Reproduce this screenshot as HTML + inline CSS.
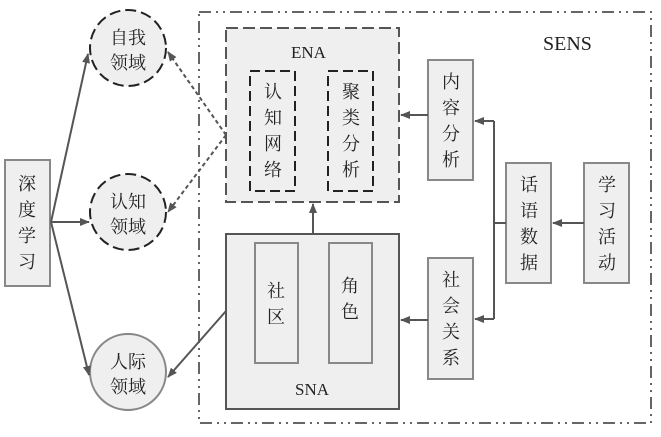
<!DOCTYPE html>
<html><head><meta charset="utf-8"><style>
body{margin:0;background:#fff;}
svg text{font-family:"Liberation Serif","Noto Serif CJK SC","Noto Sans CJK SC",serif;fill:#222;}
</style></head><body>
<svg width="661" height="432" viewBox="0 0 661 432" xmlns="http://www.w3.org/2000/svg">
<defs>
<marker id="a" markerWidth="10" markerHeight="8" refX="9" refY="4" orient="auto" markerUnits="userSpaceOnUse"><path d="M0,0 L10,4 L0,8 z" fill="#555"/></marker>
</defs>
<rect x="0" y="0" width="661" height="432" fill="#fff"/>
<!-- outer dash-dot box -->
<rect x="199" y="12" width="452" height="411" fill="none" stroke="#666" stroke-width="2" stroke-dasharray="12,5,2,5,2,5"/>
<text x="543" y="50" font-size="20">SENS</text>
<!-- ENA -->
<rect x="226" y="28" width="173" height="174" fill="#efefef" stroke="#555" stroke-width="2" stroke-dasharray="12,5"/>
<text x="291" y="58" font-size="17">ENA</text>
<rect x="250" y="71" width="45" height="120" fill="#efefef" stroke="#222" stroke-width="2" stroke-dasharray="10,5"/>
<rect x="328" y="71" width="45" height="120" fill="#efefef" stroke="#222" stroke-width="2" stroke-dasharray="10,5"/>
<g font-size="18" text-anchor="middle">
<text x="273" y="98">认</text><text x="273" y="124">知</text><text x="273" y="150">网</text><text x="273" y="176">络</text>
<text x="351" y="98">聚</text><text x="351" y="124">类</text><text x="351" y="150">分</text><text x="351" y="176">析</text>
</g>
<!-- SNA -->
<rect x="226" y="234" width="173" height="175" fill="#efefef" stroke="#555" stroke-width="2"/>
<rect x="255" y="243" width="43" height="120" fill="#efefef" stroke="#888" stroke-width="2"/>
<rect x="329" y="243" width="43" height="120" fill="#efefef" stroke="#888" stroke-width="2"/>
<g font-size="18" text-anchor="middle">
<text x="276" y="297">社</text><text x="276" y="323">区</text>
<text x="350" y="292">角</text><text x="350" y="318">色</text>
</g>
<text x="312" y="395" font-size="17" text-anchor="middle">SNA</text>
<!-- right boxes -->
<g fill="#efefef" stroke="#888" stroke-width="2">
<rect x="428" y="60" width="45" height="120"/>
<rect x="428" y="258" width="45" height="121"/>
<rect x="506" y="163" width="45" height="120"/>
<rect x="584" y="163" width="45" height="120"/>
<rect x="5" y="160" width="45" height="126"/>
</g>
<g font-size="18" text-anchor="middle">
<text x="451" y="88">内</text><text x="451" y="114">容</text><text x="451" y="140">分</text><text x="451" y="166">析</text>
<text x="451" y="286">社</text><text x="451" y="312">会</text><text x="451" y="338">关</text><text x="451" y="364">系</text>
<text x="529" y="191">话</text><text x="529" y="217">语</text><text x="529" y="243">数</text><text x="529" y="269">据</text>
<text x="607" y="191">学</text><text x="607" y="217">习</text><text x="607" y="243">活</text><text x="607" y="269">动</text>
<text x="27" y="190">深</text><text x="27" y="216">度</text><text x="27" y="242">学</text><text x="27" y="268">习</text>
</g>
<!-- circles -->
<circle cx="128" cy="48" r="38" fill="#efefef" stroke="#222" stroke-width="2" stroke-dasharray="11,5"/>
<circle cx="128" cy="212" r="38" fill="#efefef" stroke="#222" stroke-width="2" stroke-dasharray="11,5"/>
<circle cx="128" cy="372" r="38" fill="#efefef" stroke="#888" stroke-width="2"/>
<g font-size="18" text-anchor="middle">
<text x="128" y="44">自我</text><text x="128" y="69">领域</text>
<text x="128" y="208">认知</text><text x="128" y="233">领域</text>
<text x="128" y="368">人际</text><text x="128" y="393">领域</text>
</g>
<!-- connectors -->
<g stroke="#555" stroke-width="2" fill="none">
<line x1="51" y1="222" x2="88" y2="54" marker-end="url(#a)"/>
<line x1="51" y1="222" x2="89" y2="222" marker-end="url(#a)"/>
<line x1="51" y1="222" x2="89" y2="375" marker-end="url(#a)"/>
<line x1="226" y1="135" x2="168" y2="52" stroke-dasharray="4,3" marker-end="url(#a)"/>
<line x1="226" y1="135" x2="168" y2="212" stroke-dasharray="4,3" marker-end="url(#a)"/>
<line x1="226" y1="311" x2="168" y2="377" marker-end="url(#a)"/>
<line x1="313" y1="234" x2="313" y2="204" marker-end="url(#a)"/>
<line x1="428" y1="115" x2="401" y2="115" marker-end="url(#a)"/>
<line x1="428" y1="320" x2="401" y2="320" marker-end="url(#a)"/>
<polyline points="494,121 494,319"/>
<line x1="494" y1="121" x2="475" y2="121" marker-end="url(#a)"/>
<line x1="494" y1="319" x2="475" y2="319" marker-end="url(#a)"/>
<line x1="506" y1="223" x2="494" y2="223"/>
<line x1="584" y1="223" x2="553" y2="223" marker-end="url(#a)"/>
</g>
</svg>
</body></html>
